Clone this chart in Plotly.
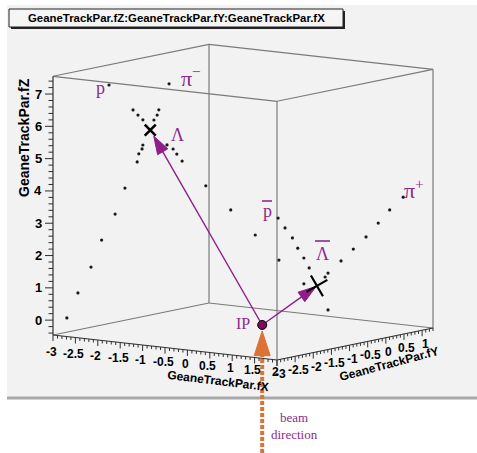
import numpy as np
import plotly.graph_objects as go

# ---------------- data (GeaneTrackPar.fX, fY, fZ) ----------------
# pi- track (from Lambda decay)
PIM_X = [-2.82, -2.67, -2.50, -2.36, -2.18, -2.05, -1.89, -1.87, -1.83, -1.82, -1.67, -1.63, -1.61, -1.47]
PIM_Y = [-2.84, -2.72, -2.57, -2.45, -2.30, -2.19, -2.05, -2.03, -1.99, -1.98, -1.86, -1.82, -1.80, -1.69]
PIM_Z = [0.06, 0.83, 1.62, 2.45, 3.25, 4.05, 4.85, 5.10, 5.25, 5.37, 6.14, 6.29, 6.45, 7.25]
# p track (from Lambda decay)
P_X = [-2.26, -1.95, -1.88, -1.82, -1.50, -1.42, -1.37, -1.30, -0.99, -0.66, -0.34, -0.03, 0.30, 0.62]
P_Y = [-2.37, -2.09, -2.04, -1.98, -1.71, -1.64, -1.60, -1.54, -1.27, -0.99, -0.71, -0.44, -0.16, 0.11]
P_Z = [7.25, 6.46, 6.30, 6.15, 5.36, 5.23, 5.07, 4.85, 4.07, 3.31, 2.52, 1.73, 0.98, 0.16]
# anti-p track
PBAR_X = [-0.04, 0.05, 0.15, 0.22, 0.30, 0.37]
PBAR_Y = [-0.45, -0.37, -0.29, -0.23, -0.16, -0.10]
PBAR_Z = [3.03, 2.72, 2.41, 2.09, 1.78, 1.47]
# pi+ track
PIP_X = [0.79, 0.95, 1.12, 1.28, 1.43, 1.61]
PIP_Y = [0.26, 0.40, 0.54, 0.68, 0.81, 0.96]
PIP_Z = [1.67, 2.03, 2.40, 2.82, 3.22, 3.61]
# extra points near anti-Lambda vertex
LBAR_X = [0.58, 0.62]
LBAR_Y = [0.08, 0.11]
LBAR_Z = [1.18, 1.30]
# decay vertices (Lambda, anti-Lambda) and interaction point
VTX_X = [-1.72, 0.47]
VTX_Y = [-1.90, -0.01]
VTX_Z = [5.83, 0.91]
IP_X, IP_Y, IP_Z = -0.25, -0.63, -0.27

# axis ranges and ticks
X_MIN, X_MAX = -3.0, 2.0
Y_MIN, Y_MAX = -3.0, 1.3
Z_MIN, Z_MAX = -0.46, 7.55
X_LABELS = [-3, -2.5, -2, -1.5, -1, -0.5, 0, 0.5, 1, 1.5, 2]
Y_LABELS = [-3, -2.5, -2, -1.5, -1, -0.5, 0, 0.5, 1]
Z_LABELS = [0, 1, 2, 3, 4, 5, 6, 7]

# ---------------- oblique projection (ROOT view) ----------------
O = (53.0, 335.0)
EX = (44.8, 5.0)
EY = (36.28, -7.44)
EZ = (0.0, -32.3)


def proj(x, y, z):
    u, v, w = x - X_MIN, y - Y_MIN, z - Z_MIN
    return (O[0] + u * EX[0] + v * EY[0] + w * EZ[0],
            O[1] + u * EX[1] + v * EY[1] + w * EZ[1])


def proj_many(xs, ys, zs):
    pts = [proj(a, b, c) for a, b, c in zip(xs, ys, zs)]
    return [p[0] for p in pts], [p[1] for p in pts]


def fmt(v):
    return str(int(v)) if float(v).is_integer() else str(v)


fig = go.Figure()

# ---------------- box ----------------
def seg_trace(segs, color, width):
    xs, ys = [], []
    for a, b in segs:
        pa, pb = proj(*a), proj(*b)
        xs += [pa[0], pb[0], None]
        ys += [pa[1], pb[1], None]
    return go.Scatter(x=xs, y=ys, mode="lines", line=dict(color=color, width=width),
                      hoverinfo="skip")

gray_edges = [
    ((X_MIN, Y_MAX, Z_MIN), (X_MIN, Y_MAX, Z_MAX)),
    ((X_MAX, Y_MAX, Z_MIN), (X_MAX, Y_MAX, Z_MAX)),
    ((X_MAX, Y_MIN, Z_MIN), (X_MAX, Y_MIN, Z_MAX)),
    ((X_MIN, Y_MIN, Z_MIN), (X_MIN, Y_MAX, Z_MIN)),
    ((X_MIN, Y_MAX, Z_MIN), (X_MAX, Y_MAX, Z_MIN)),
    ((X_MIN, Y_MIN, Z_MAX), (X_MAX, Y_MIN, Z_MAX)),
    ((X_MAX, Y_MIN, Z_MAX), (X_MAX, Y_MAX, Z_MAX)),
    ((X_MAX, Y_MAX, Z_MAX), (X_MIN, Y_MAX, Z_MAX)),
    ((X_MIN, Y_MAX, Z_MAX), (X_MIN, Y_MIN, Z_MAX)),
]
dark_edges = [
    ((X_MIN, Y_MIN, Z_MIN), (X_MIN, Y_MIN, Z_MAX)),
    ((X_MIN, Y_MIN, Z_MIN), (X_MAX, Y_MIN, Z_MIN)),
    ((X_MAX, Y_MIN, Z_MIN), (X_MAX, Y_MAX, Z_MIN)),
]
fig.add_trace(seg_trace(gray_edges, "#7a7a7a", 1.2))
fig.add_trace(seg_trace(dark_edges, "#303030", 1.2))

# ---------------- ticks ----------------
tx, ty = [], []
for z in np.round(np.arange(-0.4, Z_MAX, 0.2), 2):
    sx, sy = proj(X_MIN, Y_MIN, z)
    L = 8 if abs(z - round(z)) < 1e-6 else 4.5
    tx += [sx - L, sx, None]; ty += [sy, sy, None]
for x in np.round(np.arange(X_MIN, X_MAX + 1e-6, 0.1), 2):
    sx, sy = proj(x, Y_MIN, Z_MIN)
    L = 6 if abs(x * 2 - round(x * 2)) < 1e-6 else 3
    tx += [sx, sx, None]; ty += [sy, sy + L, None]
for y in np.round(np.arange(Y_MIN, Y_MAX + 1e-6, 0.1), 2):
    sx, sy = proj(X_MAX, y, Z_MIN)
    L = 6 if abs(y * 2 - round(y * 2)) < 1e-6 else 3
    tx += [sx, sx, None]; ty += [sy, sy + L, None]
fig.add_trace(go.Scatter(x=tx, y=ty, mode="lines", line=dict(color="#303030", width=1),
                         hoverinfo="skip"))

# ---------------- track points ----------------
DOT = dict(color="#1a1a1a", size=3.2)
for xs, ys, zs in [(PIM_X, PIM_Y, PIM_Z), (P_X, P_Y, P_Z), (PBAR_X, PBAR_Y, PBAR_Z),
                   (PIP_X, PIP_Y, PIP_Z), (LBAR_X, LBAR_Y, LBAR_Z)]:
    px, py = proj_many(xs, ys, zs)
    fig.add_trace(go.Scatter(x=px, y=py, mode="markers", marker=DOT))

# ---------------- arrows IP -> vertices ----------------
ARROW_C = "#8e1f8a"
ipx, ipy = proj(IP_X, IP_Y, IP_Z)
vx, vy = proj_many(VTX_X, VTX_Y, VTX_Z)
for i, stand in enumerate([7, 1]):
    fig.add_trace(go.Scatter(
        x=[ipx, vx[i]], y=[ipy, vy[i]], mode="lines+markers",
        line=dict(color=ARROW_C, width=1.4),
        marker=dict(symbol="arrow", size=[0, 19], angleref="previous",
                    standoff=stand, color=ARROW_C, opacity=1,
                    line=dict(color=ARROW_C, width=1))))

# vertex crosses
fig.add_trace(go.Scatter(x=[vx[0]], y=[vy[0]], mode="markers",
                         marker=dict(symbol="x-thin", size=11,
                                     line=dict(color="black", width=2.6))))
fig.add_trace(go.Scatter(x=[vx[1]], y=[vy[1]], mode="markers",
                         marker=dict(symbol="x-thin", size=17, angle=15,
                                     line=dict(color="black", width=2.2))))

# beam direction arrow (orange, dotted)
BEAM_C = "#dc7233"
fig.add_trace(go.Scatter(
    x=[ipx, ipx], y=[453, ipy + 6], mode="lines+markers",
    line=dict(color=BEAM_C, width=4, dash="4px,2px"),
    marker=dict(symbol="arrow", size=[0, 26], angleref="previous", color=BEAM_C,
                opacity=1, line=dict(color=BEAM_C, width=1))))

# interaction point
fig.add_trace(go.Scatter(x=[ipx], y=[ipy], mode="markers",
                         marker=dict(symbol="circle", size=9, color="#7a0d5e",
                                     line=dict(color="black", width=1))))

# ---------------- annotations ----------------
ann = []
LBL = dict(family="Liberation Sans, Arial", size=12, color="black", weight="bold")
for z in Z_LABELS:
    sx, sy = proj(X_MIN, Y_MIN, z)
    ann.append(dict(x=sx - 9, y=sy, text=fmt(z), xanchor="right", yanchor="middle",
                    font=dict(LBL, size=13)))
for x in X_LABELS:
    sx, sy = proj(x, Y_MIN, Z_MIN)
    ann.append(dict(x=sx - 2, y=sy + 17 - 1.1 * (x - X_MIN), text=fmt(x),
                    xanchor="center", yanchor="middle", font=LBL))
for y in Y_LABELS:
    sx, sy = proj(X_MAX, y, Z_MIN)
    ann.append(dict(x=sx + 3, y=sy + 14, text=fmt(y), xanchor="center",
                    yanchor="middle", font=LBL))

TTL = dict(family="Liberation Sans, Arial", size=12, color="black", weight="bold")
ann.append(dict(x=218, y=381, text="GeaneTrackPar.fX", textangle=7, font=TTL))
ann.append(dict(x=389, y=364, text="GeaneTrackPar.fY", textangle=-15, font=TTL))
ann.append(dict(x=24, y=138, text="GeaneTrackPar.fZ", textangle=-90,
                font=dict(TTL, size=14)))
ann.append(dict(x=176, y=18, text="GeaneTrackPar.fZ:GeaneTrackPar.fY:GeaneTrackPar.fX",
                font=dict(TTL, size=11.4)))

SER = dict(family="Liberation Serif, DejaVu Serif, serif", size=18, color="#8c2a8c")
ann += [
    dict(x=100, y=88, text="p", font=SER),
    dict(x=191, y=77, text="π<sup>−</sup>", font=dict(SER, size=22)),
    dict(x=177, y=135, text="Λ", font=SER),
    dict(x=267, y=211, text="p", font=SER),
    dict(x=322, y=254, text="Λ", font=SER),
    dict(x=414, y=189, text="π<sup>+</sup>", font=dict(SER, size=22)),
    dict(x=243, y=323, text="IP", font=dict(SER, size=16)),
    dict(x=294, y=417, text="beam", font=dict(SER, size=13)),
    dict(x=294, y=434, text="direction", font=dict(SER, size=13)),
]
for a in ann:
    a.setdefault("xref", "x"); a.setdefault("yref", "y"); a["showarrow"] = False

shapes = [
    dict(type="rect", x0=7, y0=5, x1=477, y1=398, fillcolor="#f2f2f2",
         line=dict(width=0), layer="below"),
    dict(type="line", x0=7, y0=398, x1=477, y1=398, line=dict(color="#a8a8a8", width=3),
         layer="below"),
    dict(type="rect", x0=11, y0=11, x1=345, y1=29, fillcolor="#222222",
         line=dict(width=0), layer="below"),
    dict(type="rect", x0=9, y0=9, x1=343, y1=27, fillcolor="#f5f5f5",
         line=dict(color="#222222", width=1), layer="below"),
    # overbars for anti-particles
    dict(type="line", x0=262, y0=201, x1=272, y1=201, line=dict(color="#8c2a8c", width=1.6)),
    dict(type="line", x0=315, y0=241, x1=330, y1=241, line=dict(color="#8c2a8c", width=1.6)),
]
for s in shapes:
    s["xref"] = "x"; s["yref"] = "y"

fig.update_layout(
    width=477, height=453, margin=dict(l=0, r=0, t=0, b=0),
    paper_bgcolor="white", plot_bgcolor="white", showlegend=False,
    xaxis=dict(range=[0, 477], visible=False, fixedrange=True),
    yaxis=dict(range=[453, 0], visible=False, fixedrange=True),
    annotations=ann, shapes=shapes,
)
fig.write_html("out.html", config={"displayModeBar": False},
               post_script="document.body.style.margin='0';document.body.style.overflow='hidden';")
